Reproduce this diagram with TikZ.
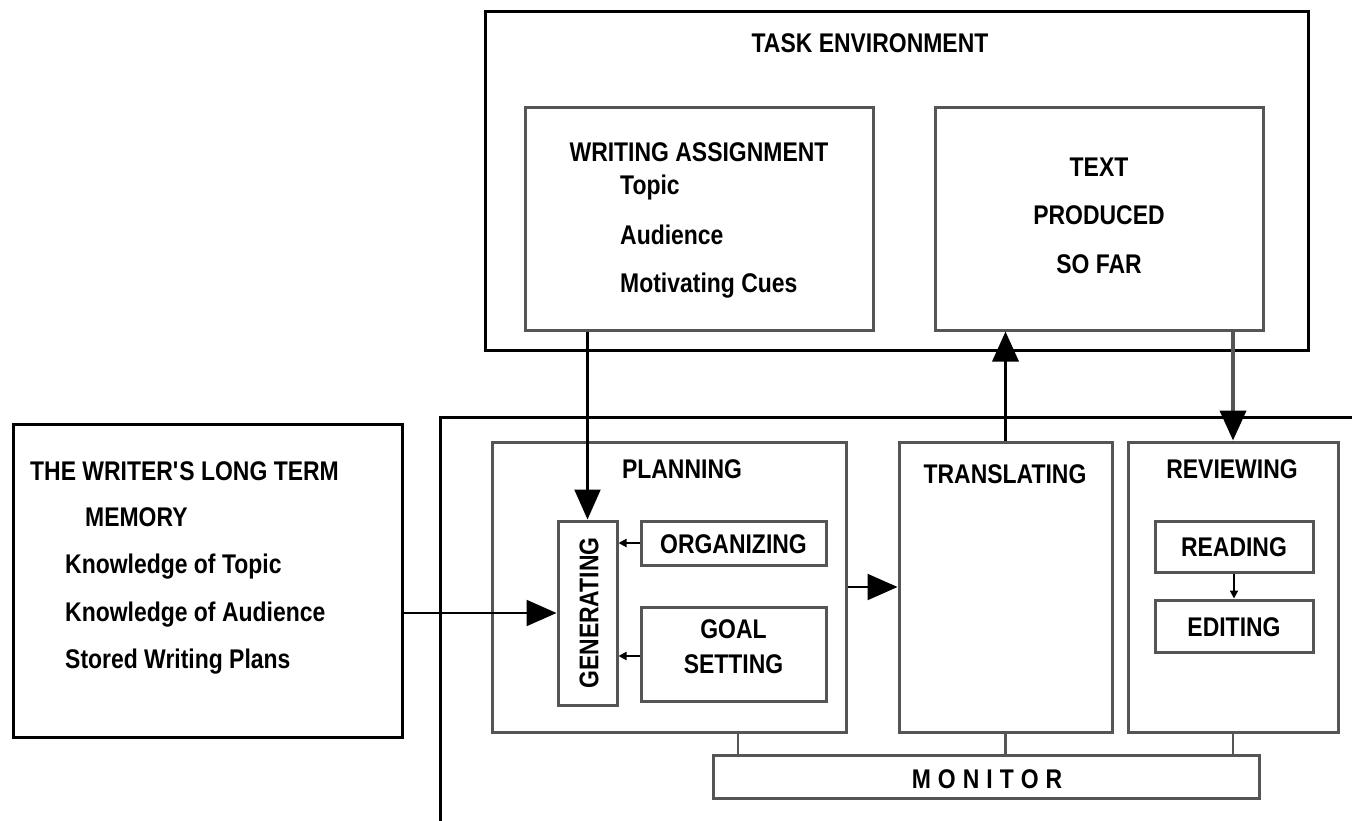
\documentclass[tikz,border=0pt]{standalone}
\usepackage{fontspec}
\setmainfont[FakeStretch=0.85]{Liberation Sans}
\usetikzlibrary{arrows.meta}
\definecolor{boxgray}{RGB}{85,85,85}
\begin{document}
\begin{tikzpicture}[x=1pt,y=-1pt,
  obox/.style={draw=black,line width=3pt,inner sep=0pt},
  ibox/.style={draw=boxgray,line width=3pt,inner sep=0pt},
  lbl/.style={font=\bfseries\fontsize{27}{30}\selectfont,inner sep=0pt},
  bigtip/.style={-{Triangle[length=30pt,width=26pt,color=black]}},
  smalltip/.style={-{Triangle[length=8pt,width=8pt]}},
  conn/.style={draw=black,line width=2.2pt},
  mline/.style={draw=boxgray,line width=2.2pt}]
\useasboundingbox (0,0) rectangle (1352,821);
\fill[white] (0,0) rectangle (1352,821);

% task environment
\node[obox,minimum width=823pt,minimum height=338pt] (task) at (896.5,181) {};
\node[lbl,anchor=base] (ttask) at (870,53) {TASK ENVIRONMENT};
\node[ibox,minimum width=348pt,minimum height=222pt] (wa) at (699,219) {};
\node[lbl,anchor=base] (twa) at (699,162) {WRITING ASSIGNMENT};
\node[lbl,anchor=base west] (ttopic) at (620,195) {Topic};
\node[lbl,anchor=base west] (taud) at (620,244) {Audience};
\node[lbl,anchor=base west] (tcues) at (620,292) {Motivating Cues};
\node[ibox,minimum width=328pt,minimum height=222pt] (tp) at (1099,219) {};
\node[lbl,anchor=base] (ttext) at (1099,177) {TEXT};
\node[lbl,anchor=base] (tprod) at (1099,225) {PRODUCED};
\node[lbl,anchor=base] (tsofar) at (1099,273) {SO FAR};

% long term memory
\node[obox,minimum width=389pt,minimum height=313pt] (ltm) at (207.5,580.5) {};
\node[lbl,anchor=base west] (tltm1) at (30,480) {THE WRITER\textquotesingle S LONG TERM};
\node[lbl,anchor=base west] (tltm2) at (85,526) {MEMORY};
\node[lbl,anchor=base west] (tltm3) at (65,573) {Knowledge of Topic};
\node[lbl,anchor=base west] (tltm4) at (65,621) {Knowledge of Audience};
\node[lbl,anchor=base west] (tltm5) at (65,668) {Stored Writing Plans};

% process box (open to right and bottom)
\coordinate (pbtr) at (1352,417);
\coordinate (pbbl) at (440,821);
\draw[line width=3pt] (pbtr) -| (pbbl);

% planning
\node[ibox,minimum width=354pt,minimum height=290pt] (plan) at (669,587) {};
\node[lbl,anchor=base] (tplan) at (682,478) {PLANNING};
\node[ibox,minimum width=59pt,minimum height=184pt] (gen) at (587.5,613) {};
\node[lbl,rotate=90] (tgen) at (589,613) {GENERATING};
\node[ibox,minimum width=185pt,minimum height=44pt] (org) at (733.5,543) {};
\node[lbl] (torg) at (733.5,544) {ORGANIZING};
\node[ibox,minimum width=185pt,minimum height=94pt] (goal) at (733.5,654) {};
\node[lbl,anchor=base] (tgoal1) at (733.5,638) {GOAL};
\node[lbl,anchor=base] (tgoal2) at (733.5,673) {SETTING};

% translating
\node[ibox,minimum width=213pt,minimum height=290pt] (trans) at (1005.5,587) {};
\node[lbl,anchor=base] (ttrans) at (1005,483) {TRANSLATING};

% reviewing
\node[ibox,minimum width=210pt,minimum height=290pt] (rev) at (1233,587) {};
\node[lbl,anchor=base] (trev) at (1232,478) {REVIEWING};
\node[ibox,minimum width=158pt,minimum height=51pt] (read) at (1234,546.5) {};
\node[lbl] (tread) at (1234,547) {READING};
\node[ibox,minimum width=158pt,minimum height=52pt] (edit) at (1234,626) {};
\node[lbl] (tedit) at (1234,627) {EDITING};

% monitor
\node[ibox,minimum width=546pt,minimum height=43pt] (mon) at (986,776.5) {};
\node[lbl,anchor=base] (tmon) at (987,788) {M\kern7pt O\kern7pt N\kern7pt I\kern7pt T\kern7pt O\kern7pt R};

% connectors
\draw[conn,bigtip] (wa.south -| gen.north) -- (gen.north);
\draw[conn,line width=3.5pt,bigtip] (trans.north) -- (trans.north |- tp.south);
\draw[draw=boxgray,line width=4pt,bigtip] (rev.north |- tp.south) -- (rev.north);
\draw[conn,bigtip] (ltm.east |- gen.west) -- (gen.west);
\draw[conn,bigtip] (plan.east) -- (trans.west);
\draw[conn,smalltip] (org.west) -- (org.west -| gen.east);
\draw[conn,smalltip] ([yshift=-2pt]goal.west) -- ([yshift=-2pt]goal.west -| gen.east);
\draw[conn,smalltip] (read.south) -- (edit.north);
\draw[mline] ([xshift=69pt]plan.south) -- ([xshift=69pt]plan.south |- mon.north);
\draw[mline] (trans.south) -- (trans.south |- mon.north);
\draw[mline] (rev.south) -- (rev.south |- mon.north);
\end{tikzpicture}
\end{document}
